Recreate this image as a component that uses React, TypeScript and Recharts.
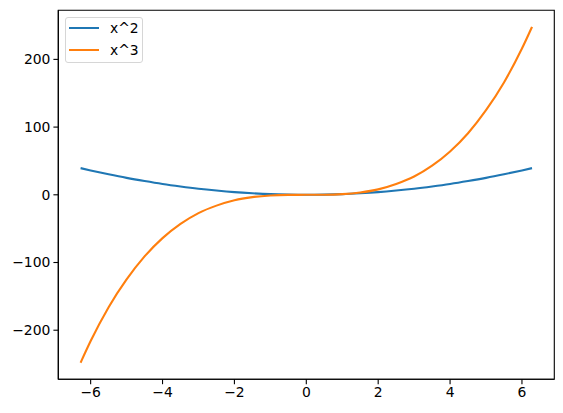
import { LineChart, Line, XAxis, YAxis, Legend, ReferenceArea } from "recharts";

// x samples across [-2π, 2π]
const xValues = [-6.28, -6, -5.5, -5, -4.5, -4, -3.5, -3, -2.5, -2, -1.5, -1, -0.5, 0, 0.5, 1, 1.5, 2, 2.5, 3, 3.5, 4, 4.5, 5, 5.5, 6, 6.28];
const squareValues = [39.4, 36, 30.3, 25, 20.3, 16, 12.3, 9, 6.3, 4, 2.3, 1, 0.3, 0, 0.3, 1, 2.3, 4, 6.3, 9, 12.3, 16, 20.3, 25, 30.3, 36, 39.4];
const cubeValues = [-248, -216, -166, -125, -91, -64, -43, -27, -16, -8, -3.4, -1, -0.1, 0, 0.1, 1, 3.4, 8, 16, 27, 43, 64, 91, 125, 166, 216, 248];
const xTicks = [-6, -4, -2, 0, 2, 4, 6];
const yTicks = [-200, -100, 0, 100, 200];
const xDomain = [-6.9, 6.9];
const yDomain = [-272.5, 272.5];

const series = [
  { key: "sq", label: "x^2", color: "#1f77b4" },
  { key: "cu", label: "x^3", color: "#ff7f0e" },
];

const data = xValues.map((x, i) => ({ x, sq: squareValues[i], cu: cubeValues[i] }));

const FONT = "'DejaVu Sans', sans-serif";
const tickStyle = { fontSize: 13.9, fill: "#000", fontFamily: FONT };
const fmt = (v: number) => (v < 0 ? "\u2212" + Math.abs(v) : String(v));

function LegendBox() {
  return (
    <div
      style={{
        width: 78,
        height: 46,
        border: "1px solid #d6d6d6",
        borderRadius: 3,
        background: "rgba(255,255,255,0.8)",
        fontFamily: FONT,
        fontSize: 13.9,
        position: "relative",
        boxSizing: "border-box",
      }}
    >
      {series.map((s, i) => (
        <div key={s.key} style={{ position: "absolute", left: 3, top: 1 + i * 21.7, height: 18, display: "flex", alignItems: "center" }}>
          <span style={{ display: "inline-block", width: 30, height: 2, background: s.color }} />
          <span style={{ marginLeft: 11, color: "#000" }}>{s.label}</span>
        </div>
      ))}
    </div>
  );
}

export default function App() {
  return (
    <div style={{ position: "absolute", left: 0, top: 0, background: "#fff" }}>
      <LineChart width={563} height={413} data={data} margin={{ top: 10.3, right: 8.7, left: 0, bottom: 0 }}>
        <XAxis
          dataKey="x"
          type="number"
          domain={xDomain}
          ticks={xTicks}
          tickFormatter={fmt}
          tick={tickStyle}
          tickSize={4.9}
          tickMargin={3}
          height={33.7}
          allowDataOverflow
          axisLine={{ stroke: "#000", strokeWidth: 1.1 }}
          tickLine={{ stroke: "#000", strokeWidth: 1.1 }}
        />
        <YAxis
          type="number"
          domain={yDomain}
          ticks={yTicks}
          tickFormatter={fmt}
          tick={tickStyle}
          tickSize={4.9}
          tickMargin={3}
          width={58.3}
          allowDataOverflow
          axisLine={{ stroke: "#000", strokeWidth: 1.1 }}
          tickLine={{ stroke: "#000", strokeWidth: 1.1 }}
        />
        {series.map((s) => (
          <Line
            key={s.key}
            dataKey={s.key}
            name={s.label}
            type="monotone"
            stroke={s.color}
            strokeWidth={2.1}
            dot={false}
            isAnimationActive={false}
          />
        ))}
        <ReferenceArea
          x1={xDomain[0]}
          x2={xDomain[1]}
          y1={yDomain[0]}
          y2={yDomain[1]}
          fill="none"
          stroke="#000"
          strokeWidth={1.1}
          ifOverflow="visible"
        />
        <Legend
          layout="vertical"
          align="center"
          verticalAlign="middle"
          wrapperStyle={{ left: 65, top: 17, width: 78 }}
          content={() => <LegendBox />}
        />
      </LineChart>
    </div>
  );
}
